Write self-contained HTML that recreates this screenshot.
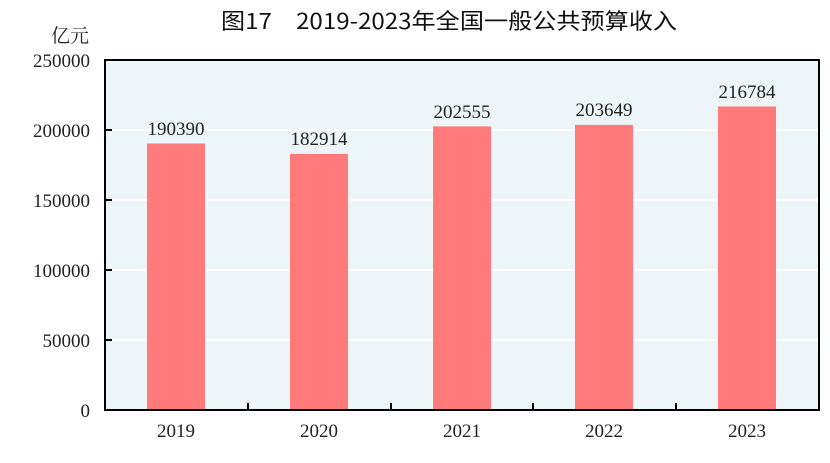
<!DOCTYPE html>
<html><head><meta charset="utf-8"><style>body{margin:0;background:#fff}svg{display:block}</style></head>
<body>
<svg width="830" height="463" viewBox="0 0 830 463" xmlns="http://www.w3.org/2000/svg">
<text x="221" y="29" font-family="'Noto Sans CJK SC',sans-serif" font-size="22" fill="#111" textLength="456" lengthAdjust="spacingAndGlyphs">图17　2019-2023年全国一般公共预算收入</text>
<rect x="105" y="60" width="714" height="350" fill="#edf5f8"/>
<g stroke="#fff" stroke-width="2">
<line x1="106" x2="818" y1="130" y2="130"/><line x1="106" x2="818" y1="200" y2="200"/>
<line x1="106" x2="818" y1="270" y2="270"/><line x1="106" x2="818" y1="340" y2="340"/>
</g>
<g fill="#ff7b7b">
<rect x="147" y="143.5" width="58" height="266.5"/>
<rect x="290" y="153.9" width="58" height="256.1"/>
<rect x="433" y="126.4" width="58" height="283.6"/>
<rect x="575" y="124.9" width="58" height="285.1"/>
<rect x="718" y="106.5" width="58" height="303.5"/>
</g>
<rect x="105" y="60" width="714" height="350" fill="none" stroke="#000" stroke-width="2"/>
<g stroke="#000" stroke-width="2">
<line x1="105" x2="112" y1="130" y2="130"/><line x1="105" x2="112" y1="200" y2="200"/>
<line x1="105" x2="112" y1="270" y2="270"/><line x1="105" x2="112" y1="340" y2="340"/>
<line x1="248" x2="248" y1="403" y2="410"/><line x1="391" x2="391" y1="403" y2="410"/>
<line x1="533" x2="533" y1="403" y2="410"/><line x1="676" x2="676" y1="403" y2="410"/>
</g>
<g font-family="'Liberation Serif',serif" font-size="19" fill="#222" text-anchor="end">
<text x="89" y="42" font-family="'Noto Serif CJK SC',serif">亿元</text>
<text x="90" y="67">250000</text><text x="90" y="137">200000</text>
<text x="90" y="207">150000</text><text x="90" y="277">100000</text>
<text x="90" y="347">50000</text><text x="90" y="417">0</text>
</g>
<g font-family="'Liberation Serif',serif" font-size="19" fill="#222" text-anchor="middle">
<text x="176" y="135">190390</text><text x="319" y="145">182914</text>
<text x="462" y="118">202555</text><text x="604" y="116">203649</text>
<text x="747" y="98">216784</text>
<text x="176" y="437">2019</text><text x="319" y="437">2020</text>
<text x="462" y="437">2021</text><text x="604" y="437">2022</text>
<text x="747" y="437">2023</text>
</g>
</svg>
</body></html>
